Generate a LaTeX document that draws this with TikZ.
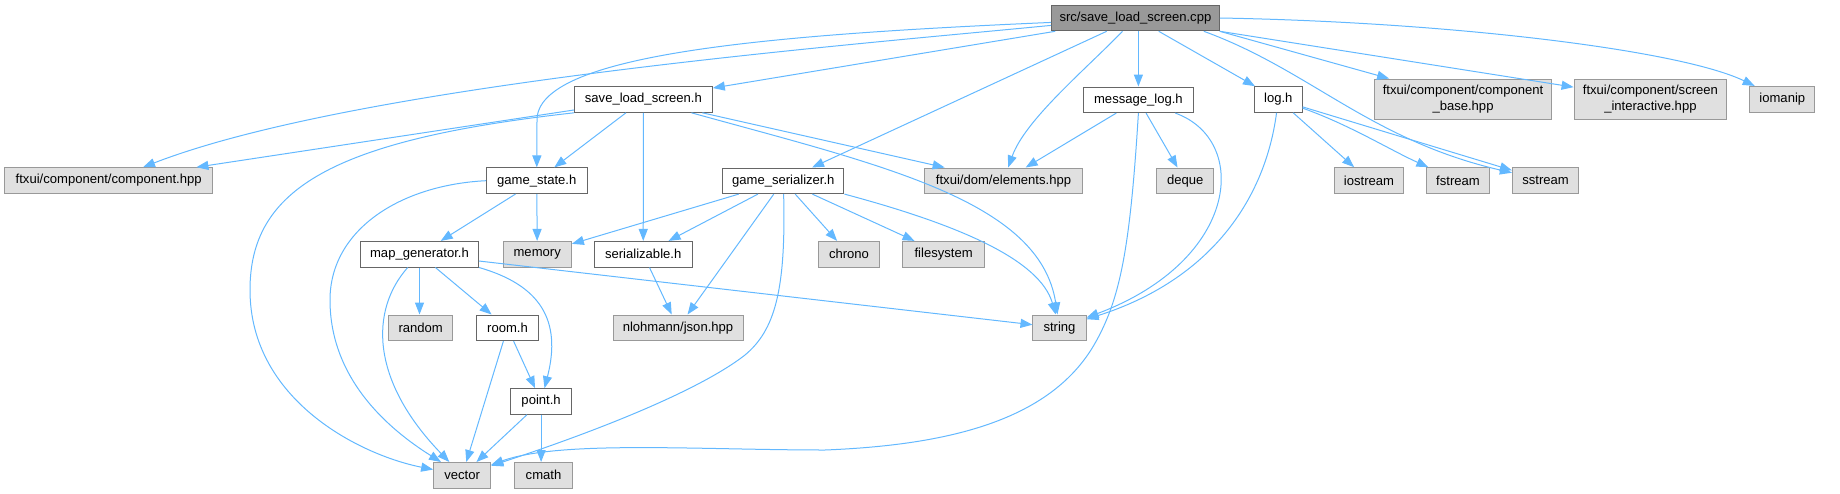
\documentclass[tikz,border=0pt]{standalone}
\usepackage{fontspec}
\setmainfont{Liberation Sans}
\usetikzlibrary{arrows.meta}

\definecolor{edgeblue}{HTML}{63B8FF}
\definecolor{srcfill}{HTML}{999999}
\definecolor{srcline}{HTML}{666666}
\definecolor{sysfill}{HTML}{E0E0E0}
\definecolor{sysline}{HTML}{999999}

\tikzset{
  box/.style={rectangle, minimum height=19.2pt, inner sep=1pt, line width=0.75pt,
    font=\fontsize{9.8}{11.5}\selectfont, align=center},
  srcbox/.style={box, fill=srcfill, draw=srcline},
  hdrbox/.style={box, fill=white, draw=srcline},
  sysbox/.style={box, fill=sysfill, draw=sysline},
  dep/.style={draw=edgeblue, line width=0.75pt, -{Triangle[length=9pt,width=6.8pt]}}
}

\begin{document}
\begin{tikzpicture}[x=0.75pt, y=-0.75pt]
\useasboundingbox (0,0) rectangle (1840,493);

% Zeile 0 und 1
\node[srcbox, minimum width=125.8pt] (src) at (1135.4,18) {src/save\_load\_screen.cpp};
\node[hdrbox, minimum width=103.4pt] (slsh) at (643.4,99.5) {save\_load\_screen.h};
\node[hdrbox, minimum width=82.1pt] (msglog) at (1138.4,99.8) {message\_log.h};
\node[hdrbox, minimum width=35.6pt] (log) at (1278.3,99.5) {log.h};
\node[sysbox, minimum width=132.2pt, minimum height=30.2pt] (compbase) at (1463,99.2) {ftxui/component/component\\\_base.hpp};
\node[sysbox, minimum width=114.5pt, minimum height=30.2pt] (scrint) at (1650.4,99.2) {ftxui/component/screen\\\_interactive.hpp};
\node[sysbox, minimum width=49pt] (iomanip) at (1782.3,99.2) {iomanip};

% Zeile 2
\node[sysbox, minimum width=156pt] (comp) at (108.7,180.5) {ftxui/component/component.hpp};
\node[hdrbox, minimum width=75.6pt] (gstate) at (536.8,180.7) {game\_state.h};
\node[hdrbox, minimum width=91pt] (gser) at (783.3,180.8) {game\_serializer.h};
\node[sysbox, minimum width=118.4pt] (elements) at (1003.5,180.8) {ftxui/dom/elements.hpp};
\node[sysbox, minimum width=42.8pt] (deque) at (1185.2,180.8) {deque};
\node[sysbox, minimum width=51.9pt] (iostream) at (1369,180.5) {iostream};
\node[sysbox, minimum width=47.7pt] (fstream) at (1458,180.5) {fstream};
\node[sysbox, minimum width=49.8pt] (sstream) at (1545.6,180.5) {sstream};

% Zeile 3
\node[hdrbox, minimum width=88.5pt] (mapgen) at (419.5,254.2) {map\_generator.h};
\node[sysbox, minimum width=51.3pt] (memory) at (537.2,254.2) {memory};
\node[hdrbox, minimum width=73.4pt] (serial) at (643.2,254.2) {serializable.h};
\node[sysbox, minimum width=45.4pt] (chrono) at (849,254.2) {chrono};
\node[sysbox, minimum width=61pt] (filesys) at (943.6,254.2) {filesystem};

% Zeile 4 bis 6
\node[sysbox, minimum width=48pt] (random) at (420.7,327.8) {random};
\node[hdrbox, minimum width=46pt] (room) at (507.5,327.8) {room.h};
\node[sysbox, minimum width=97.5pt] (json) at (678,327.8) {nlohmann/json.hpp};
\node[sysbox, minimum width=39.8pt] (string) at (1059.5,327.8) {string};
\node[hdrbox, minimum width=45.4pt] (point) at (541.1,401.5) {point.h};
\node[sysbox, minimum width=42.8pt] (vector) at (462.2,475.3) {vector};
\node[sysbox, minimum width=43pt] (cmath) at (543.5,475.3) {cmath};

% Kanten von src/save_load_screen.cpp
\draw[dep] (src.185) .. controls (851,45) and (358,84) .. (comp);
\draw[dep] (src.183) .. controls (760,35) and (537,55) .. (537,120) -- (gstate.north);
\draw[dep] (src) -- (slsh);
\draw[dep] (src) -- (gser);
\draw[dep] (src) .. controls (1085,70) and (1025,120) .. (elements);
\draw[dep] (src.south -| msglog) -- (msglog);
\draw[dep] (src) -- (log);
\draw[dep] (src.-11) .. controls (1310,70) and (1370,140) .. (sstream);
\draw[dep] (src.south east) -- (compbase);
\draw[dep] (src) -- (scrint);
\draw[dep] (src.east) .. controls (1450,22) and (1680,50) .. (iomanip);

% Kanten von save_load_screen.h
\draw[dep] (slsh) -- (comp);
\draw[dep] (slsh.south west) .. controls (330,140) and (250,190) .. (250,290)
  .. controls (250,400) and (360,455) .. (vector);
\draw[dep] (slsh) -- (gstate);
\draw[dep] (slsh) -- (serial);
\draw[dep] (slsh) -- (elements);
\draw[dep] (slsh) .. controls (880,165) and (1040,200) .. (string);

% Kanten von game_state.h
\draw[dep] (gstate) -- (mapgen);
\draw[dep] (gstate) -- (memory);
\draw[dep] (gstate.west) .. controls (400,185) and (330,230) .. (330,300)
  .. controls (330,380) and (390,430) .. (vector);

% Kanten von map_generator.h
\draw[dep] (mapgen) .. controls (370,310) and (370,380) .. (vector);
\draw[dep] (mapgen) -- (mapgen |- random.north);
\draw[dep] (mapgen) -- (room);
\draw[dep] (mapgen.south east) .. controls (540,285) and (562,320) .. (point);
\draw[dep] (mapgen) -- (string);

% room.h, point.h, serializable.h
\draw[dep] (room) -- (vector);
\draw[dep] (room) -- (point);
\draw[dep] (point) -- (vector);
\draw[dep] (point) -- (point |- cmath.north);
\draw[dep] (serial) -- (json);

% Kanten von game_serializer.h
\draw[dep] (gser) -- (memory);
\draw[dep] (gser) -- (serial);
\draw[dep] (gser) -- (json);
\draw[dep] (gser) .. controls (786,290) and (775,330) .. (745,355)
  .. controls (700,390) and (600,430) .. (vector);
\draw[dep] (gser) -- (chrono);
\draw[dep] (gser) -- (filesys);
\draw[dep] (gser.south east) .. controls (960,225) and (1040,260) .. (string);

% Kanten von message_log.h
\draw[dep] (msglog) -- (elements);
\draw[dep] (msglog) -- (deque);
\draw[dep] (msglog) .. controls (1250,140) and (1240,260) .. (string);
\draw[dep] (msglog.south) .. controls (1130,250) and (1120,300) .. (1094,345)
  .. controls (1050,420) and (950,445) .. (825,450)
  .. controls (700,450) and (560,440) .. (vector);

% Kanten von log.h
\draw[dep] (log) .. controls (1265,200) and (1210,280) .. (string);
\draw[dep] (log) -- (iostream);
\draw[dep] (log) .. controls (1350,125) and (1390,150) .. (fstream);
\draw[dep] (log) -- (sstream);
\end{tikzpicture}
\end{document}
